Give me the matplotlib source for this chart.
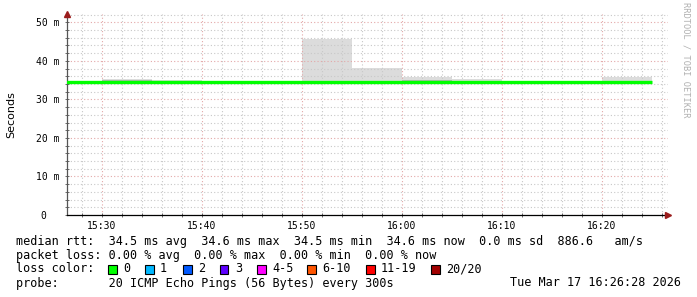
import matplotlib
matplotlib.use('Agg')
import matplotlib.pyplot as plt
from matplotlib.patches import Rectangle
from matplotlib.ticker import FixedLocator

# ---------------- data ----------------
interval_starts = ['15:25', '15:30', '15:35', '15:40', '15:45', '15:50',
                   '15:55', '16:00', '16:05', '16:10', '16:15', '16:20']
last_edge = '16:25'
median_ms = [34.4, 34.4, 34.5, 34.5, 34.5, 34.5, 34.5, 34.6, 34.6, 34.6, 34.6, 34.6]
smoke_low_ms = [34.3, 34.3, 34.3, 34.3, 34.3, 34.3, 34.3, 34.3, 34.3, 34.3, 34.3, 34.3]
smoke_mid_ms = [34.3, 35.0, 34.3, 34.3, 34.3, 34.9, 34.3, 35.1, 34.3, 34.3, 34.3, 34.3]
smoke_high_ms = [34.5, 35.3, 35.0, 34.5, 34.5, 45.7, 38.2, 35.7, 35.2, 34.5, 34.5, 35.8]

y_ticks = [0, 10, 20, 30, 40, 50]
y_tick_labels = ['0  ', '10 m', '20 m', '30 m', '40 m', '50 m']
x_tick_labels = ['15:30', '15:40', '15:50', '16:00', '16:10', '16:20']

loss_labels = ['0', '1', '2', '3', '4-5', '6-10', '11-19', '20/20']
loss_colors = ['#00ff00', '#00b8ff', '#0059ff', '#5e00ff', '#ff00ff',
               '#ff5500', '#ff0000', '#a10000']

legend_median = "median rtt:  34.5 ms avg  34.6 ms max  34.5 ms min  34.6 ms now  0.0 ms sd  886.6   am/s"
legend_loss = "packet loss: 0.00 % avg  0.00 % max  0.00 % min  0.00 % now"
legend_probe = "probe:       20 ICMP Echo Pings (56 Bytes) every 300s"
legend_date = "Tue Mar 17 16:26:28 2026"


def to_min(s):
    h, m = s.split(':')
    return int(h) * 60 + int(m)


edges = [to_min(s) for s in interval_starts] + [to_min(last_edge)]
x_major = [to_min(s) for s in x_tick_labels]

# ---------------- figure ----------------
W, H = 697, 297
fig = plt.figure(figsize=(W / 100, H / 100), dpi=100)
fig.patch.set_facecolor('white')

ax_l, ax_r, ax_b, ax_t = 66.7, 668, 215, 13.5
ax = fig.add_axes([ax_l / W, 1 - ax_b / H, (ax_r - ax_l) / W, (ax_b - ax_t) / H])
ax.set_facecolor('white')

x0 = to_min('15:26') + 0.5
ax.set_xlim(x0, x0 + (ax_r - ax_l) / 10.0)
ax.set_ylim(0, (ax_b - ax_t) / 3.853)

# smoke
ax.stairs(smoke_high_ms, edges, baseline=smoke_low_ms, fill=True,
          color='#dcdcdc', linewidth=0, zorder=1)
ax.stairs(smoke_mid_ms, edges, baseline=smoke_low_ms, fill=True,
          color='#b4b4b4', linewidth=0, zorder=1.1)
# median
ax.stairs(median_ms, edges, baseline=None, fill=False,
          color='#00ff00', linewidth=2.4, zorder=3)

# grid
ax.set_axisbelow('line')
ax.yaxis.set_major_locator(FixedLocator(y_ticks))
ax.yaxis.set_minor_locator(FixedLocator([v for v in range(0, 53, 2) if v % 10]))
ax.set_yticklabels(y_tick_labels)
minor_x = [m for m in range(int(x0), int(x0) + 62) if m % 2 == 0 and m % 10]
ax.xaxis.set_major_locator(FixedLocator(x_major))
ax.xaxis.set_minor_locator(FixedLocator(minor_x))
ax.set_xticklabels(x_tick_labels)

ax.grid(which='major', color='#e3a8a8', linestyle=(0, (1, 2)), linewidth=0.8)
ax.grid(which='minor', color='#c8c8c8', linestyle=(0, (1, 2)), linewidth=0.8)

for s in ['top', 'right']:
    ax.spines[s].set_visible(False)
ax.spines['left'].set_color('#555555')
ax.spines['bottom'].set_color('#000000')
ax.spines['left'].set_linewidth(0.9)
ax.spines['bottom'].set_linewidth(0.9)

ax.tick_params(axis='both', which='both', direction='inout', length=3,
               width=0.6, color='#555555')
ax.tick_params(axis='y', which='major', labelsize=7, pad=4)
ax.tick_params(axis='x', which='major', labelsize=7, pad=3)
for lab in ax.get_xticklabels() + ax.get_yticklabels():
    lab.set_fontfamily('DejaVu Sans Mono')

ax.set_ylabel('Seconds', fontsize=8, family='DejaVu Sans', labelpad=14)

# arrows
ax.plot([0], [1.0], marker='^', color='#9b1c1c', markersize=4,
        transform=ax.transAxes, clip_on=False, zorder=5)
ax.plot([1.0], [0], marker='>', color='#9b1c1c', markersize=4,
        transform=ax.transAxes, clip_on=False, zorder=5)

# watermark
fig.text(686 / W, 1 - 60 / H, 'RRDTOOL / TOBI OETIKER', rotation=270,
         fontsize=6.2, family='DejaVu Sans Mono', color='#b0b0b0',
         ha='center', va='center')


def fx(x):
    return x / W


def fy(y):
    return 1 - y / H


mono = dict(family='DejaVu Sans Mono', fontsize=8.5, va='center', color='black')
fig.text(fx(16), fy(241), legend_median, **mono)
fig.text(fx(16), fy(256), legend_loss, **mono)
fig.text(fx(16), fy(269), 'loss color:', **mono)
fig.text(fx(16), fy(283), legend_probe, **mono)
fig.text(fx(681), fy(283), legend_date, ha='right', **mono)

# loss color legend
square_x = [108, 145, 183, 220, 257, 307, 366, 431]
for sx, lab, col in zip(square_x, loss_labels, loss_colors):
    fig.patches.append(Rectangle((fx(sx), fy(273.5)), 8.5 / W, 9 / H,
                                 transform=fig.transFigure, facecolor=col,
                                 edgecolor='black', linewidth=0.8))
    fig.text(fx(sx + 15), fy(269), lab, **mono)

fig.savefig('out.png', dpi=100, facecolor='white')
